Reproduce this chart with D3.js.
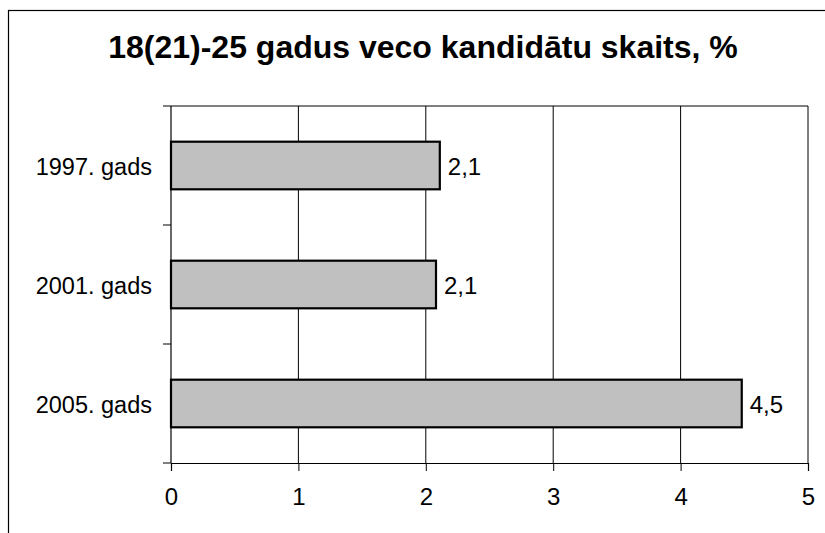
<!DOCTYPE html>
<html>
<head>
<meta charset="utf-8">
<script src="https://cdn.jsdelivr.net/npm/d3@7"></script>
<style>
body { margin: 0; background: #fff; }
text { font-family: "Liberation Sans", Arial, sans-serif; }
</style>
</head>
<body>
<script>
var w = 825;
var h = 533;

var titleText = "18(21)-25 gadus veco kandidātu skaits, %";
var categories = ["1997. gads", "2001. gads", "2005. gads"];
var values = [2.11, 2.08, 4.48];
var valueLabels = ["2,1", "2,1", "4,5"];
var xTicks = [0, 1, 2, 3, 4, 5];

var plotLeft = 171, plotRight = 808, plotTop = 106, plotBottom = 463;

var svg = d3.select("body")
    .append("svg")
    .attr("width", w)
    .attr("height", h);

// outer chart border (runs off the right and bottom edge)
svg.append("rect")
    .attr("x", 8.5).attr("y", 10.5)
    .attr("width", 840).attr("height", 540)
    .attr("fill", "none")
    .attr("stroke", "#000")
    .attr("stroke-width", 1.2);

svg.append("text")
    .attr("x", 423).attr("y", 58)
    .attr("text-anchor", "middle")
    .attr("font-size", 32)
    .attr("font-weight", "bold")
    .text(titleText);

var x = d3.scaleLinear().domain([0, 5]).range([plotLeft, plotRight]);
var y = d3.scaleBand().domain(categories).range([plotTop, plotBottom]).paddingInner(0.6).paddingOuter(0.3);
var yb = d3.scaleBand().domain(categories).range([plotTop, plotBottom]);

// gridlines
svg.append("g")
    .selectAll("line")
    .data(xTicks.slice(1))
    .enter()
    .append("line")
    .attr("x1", d => x(d)).attr("x2", d => x(d))
    .attr("y1", plotTop).attr("y2", plotBottom)
    .attr("stroke", "#000")
    .attr("stroke-width", 1);

// top border of plot area
svg.append("line")
    .attr("x1", plotLeft).attr("x2", plotRight)
    .attr("y1", plotTop).attr("y2", plotTop)
    .attr("stroke", "#000");

// bars
svg.append("g")
    .selectAll("rect")
    .data(values)
    .enter()
    .append("rect")
    .attr("x", x(0))
    .attr("y", (d, i) => y(categories[i]))
    .attr("width", d => x(d) - x(0))
    .attr("height", y.bandwidth())
    .attr("fill", "#c0c0c0")
    .attr("stroke", "#000")
    .attr("stroke-width", 2.2);

svg.append("g")
    .selectAll("text")
    .data(values)
    .enter()
    .append("text")
    .attr("x", d => x(d) + 8)
    .attr("y", (d, i) => y(categories[i]) + y.bandwidth() / 2 + 9)
    .attr("font-size", 24)
    .text((d, i) => valueLabels[i]);

// x axis
var xAxis = d3.axisBottom(x).tickValues(xTicks).tickSize(8).tickPadding(17).tickFormat(d3.format("d"));
var gx = svg.append("g")
    .attr("transform", "translate(0," + plotBottom + ")")
    .call(xAxis);
gx.select(".domain").attr("stroke", "#000").attr("stroke-width", 1.2);
gx.selectAll(".tick line").attr("stroke", "#000");
gx.selectAll("text").attr("font-size", 24).attr("fill", "#000")
    .style("font-family", "'Liberation Sans', Arial, sans-serif");

// category axis with ticks on band boundaries
svg.append("line")
    .attr("x1", plotLeft).attr("x2", plotLeft)
    .attr("y1", plotTop).attr("y2", plotBottom)
    .attr("stroke", "#000").attr("stroke-width", 1.2);

var bounds = categories.map(c => yb(c)).concat([plotBottom]);
svg.append("g")
    .selectAll("line")
    .data(bounds)
    .enter()
    .append("line")
    .attr("x1", plotLeft - 8).attr("x2", plotLeft)
    .attr("y1", d => d).attr("y2", d => d)
    .attr("stroke", "#000");

svg.append("g")
    .selectAll("text")
    .data(categories)
    .enter()
    .append("text")
    .attr("x", 152)
    .attr("y", d => y(d) + y.bandwidth() / 2 + 9)
    .attr("text-anchor", "end")
    .attr("font-size", 23.5)
    .text(d => d);
</script>
</body>
</html>
